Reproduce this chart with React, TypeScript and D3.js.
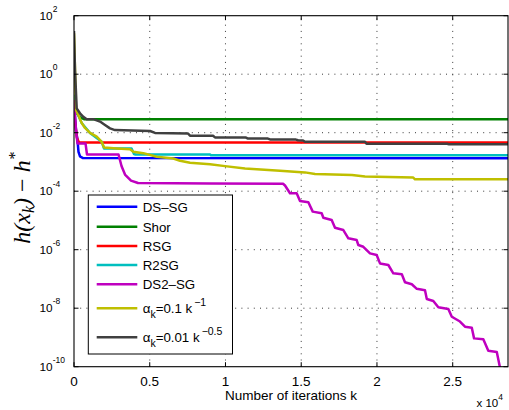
import React from 'react';
import * as d3 from 'd3';

// iterations k, h(x_k) - h*
const DS_SG: [number, number][] = [
  [0, 0.09], [132, 0.0123], [231, 5.6e-3], [297, 2.2e-3], [396, 1.54e-3], [594, 1.36e-3], [28650, 1.35e-3],
];
const SHOR: [number, number][] = [
  [0, 0.13], [132, 0.05], [396, 0.034], [660, 0.0288], [28650, 0.0288],
];
const RSG: [number, number][] = [
  [0, 0.08], [66, 0.023], [198, 6.6e-3], [330, 4.6e-3], [28650, 4.6e-3],
];
const R2SG: [number, number][] = [
  [0, 0.2], [132, 0.06], [508, 0.0215], [1056, 9.8e-3], [1829, 4.9e-3], [1980, 2.9e-3],
  [3800, 2.9e-3], [3960, 1.87e-3], [4060, 1.8e-3], [8980, 1.8e-3], [9040, 1.7e-3], [28650, 1.7e-3],
];
const DS2_SG: [number, number][] = [
  [0, 0.13], [132, 0.0123], [231, 4.3e-3], [760, 4.3e-3], [858, 1.8e-3], [2940, 1.8e-3],
  [3136, 7.3e-4], [3367, 3.7e-4], [3763, 2.3e-4], [4225, 1.9e-4], [9000, 1.85e-4], [13800, 1.8e-4],
  [13930, 1.57e-4], [14260, 8.5e-5], [14700, 8.5e-5], [14920, 4.6e-5], [15470, 4.2e-5], [15760, 2.0e-5],
  [16350, 1.76e-5], [16460, 1.24e-5], [17010, 1.04e-5], [17230, 5.6e-6], [17780, 4.7e-6], [18110, 2.45e-6],
  [18660, 2.14e-6], [18770, 1.45e-6], [19100, 1.26e-6], [19540, 7.5e-7], [19980, 6.6e-7], [20200, 3.4e-7],
  [20750, 3.0e-7], [21080, 1.56e-7], [21640, 1.44e-7], [21850, 7.7e-8], [22300, 6.6e-8], [22630, 4.6e-8],
  [23170, 4.1e-8], [23290, 2.07e-8], [23720, 1.77e-8], [24050, 1.08e-8], [24710, 9.4e-9], [24940, 5.1e-9],
  [25480, 3.5e-9], [25810, 2.33e-9], [26260, 2.15e-9], [26410, 9.3e-10], [27020, 8.7e-10], [27350, 3.5e-10],
  [27910, 3.2e-10], [28130, 8.9e-11],
];
const ALPHA_INV: [number, number][] = [
  [0, 25], [33, 6.7], [100, 0.29], [132, 0.06], [284, 0.04], [508, 0.0215], [726, 0.0145], [1056, 9.8e-3],
  [1499, 7.3e-3], [1829, 4.9e-3], [1980, 3.1e-3], [2819, 2.9e-3], [3697, 2.7e-3], [3915, 2.24e-3],
  [4575, 2.0e-3], [5460, 1.5e-3], [6556, 1.31e-3], [7000, 1.1e-3], [7660, 9.4e-4], [8980, 8.3e-4],
  [9970, 7.2e-4], [11290, 6.0e-4], [13600, 5.0e-4], [15250, 4.4e-4], [15910, 3.9e-4], [18350, 3.6e-4],
  [19210, 3.2e-4], [22380, 2.95e-4], [22510, 2.55e-4], [28650, 2.55e-4],
];
const ALPHA_SQRT: [number, number][] = [
  [0, 30], [66, 1.4], [178, 0.068], [396, 0.046], [614, 0.035], [838, 0.029], [1274, 0.029],
  [1717, 0.024], [2047, 0.0183], [2377, 0.0141], [2707, 0.0123], [5018, 0.0114], [5348, 9.8e-3],
  [7526, 9.4e-3], [7658, 7.9e-3], [9177, 7.9e-3], [9309, 6.9e-3], [11355, 6.8e-3], [11487, 6.3e-3],
  [12800, 6.3e-3], [12940, 5.9e-3], [14650, 5.8e-3], [14790, 5.5e-3], [15120, 5.4e-3], [15250, 4.9e-3],
  [19210, 4.9e-3], [19310, 4.2e-3], [24630, 4.2e-3], [24760, 4.0e-3], [28650, 4.0e-3],
];

const SERIES = [
  { name: 'DS–SG', color: '#0000ff', data: DS_SG },
  { name: 'Shor', color: '#008000', data: SHOR },
  { name: 'RSG', color: '#ff0000', data: RSG },
  { name: 'R2SG', color: '#00bfbf', data: R2SG },
  { name: 'DS2–SG', color: '#bf00bf', data: DS2_SG },
  { name: 'a1', color: '#bfbf00', data: ALPHA_INV },
  { name: 'a2', color: '#404040', data: ALPHA_SQRT },
];

const X_TICKS = [0, 5000, 10000, 15000, 20000, 25000];
const X_TICK_LABELS = ['0', '0.5', '1', '1.5', '2', '2.5'];
const Y_EXPONENTS = [2, 0, -2, -4, -6, -8, -10];

const W = 509;
const H = 410;
const L = 74, R = 508, T = 15.7, B = 366.7;
const FONT = 'Liberation Sans, Arial, sans-serif';

export default function App() {
  const x = d3.scaleLinear().domain([0, 28650]).range([L, R]);
  const y = d3.scaleLog().domain([1e-10, 1e2]).range([B, T]);
  const line = d3.line<[number, number]>().x(d => x(d[0])).y(d => y(d[1]));

  const legendY = [206.7, 226.7, 246, 265, 284.3, 308.3, 337.3];

  return (
    <svg width={W} height={H} style={{ position: 'absolute', left: 0, top: 0, background: '#fff' }}>
      <defs>
        <clipPath id="plot">
          <rect x={L} y={T} width={R - L} height={B - T} />
        </clipPath>
      </defs>
      <rect x={L} y={T} width={R - L} height={B - T} fill="#fff" />

      {/* grid */}
      <g stroke="#222" strokeWidth={0.9} strokeDasharray="1 5.2">
        {X_TICKS.slice(1).map(t => (
          <line key={'gx' + t} x1={x(t)} x2={x(t)} y1={B} y2={T} />
        ))}
        {Y_EXPONENTS.slice(1, -1).map(e => (
          <line key={'gy' + e} x1={L} x2={R} y1={y(Math.pow(10, e))} y2={y(Math.pow(10, e))} />
        ))}
      </g>

      {/* curves */}
      <g clipPath="url(#plot)" fill="none" strokeWidth={2.5} strokeLinejoin="round">
        {SERIES.map(s => (
          <path key={s.name} d={line(s.data) || ''} stroke={s.color} />
        ))}
      </g>

      {/* axes box + ticks */}
      <rect x={L} y={T} width={R - L} height={B - T} fill="none" stroke="#000" strokeWidth={1.1} />
      <g stroke="#000" strokeWidth={1}>
        {X_TICKS.map(t => (
          <g key={'tx' + t}>
            <line x1={x(t)} x2={x(t)} y1={B} y2={B - 4.5} />
            <line x1={x(t)} x2={x(t)} y1={T} y2={T + 4.5} />
          </g>
        ))}
        {Y_EXPONENTS.map(e => (
          <g key={'ty' + e}>
            <line x1={L} x2={L + 4.5} y1={y(Math.pow(10, e))} y2={y(Math.pow(10, e))} />
            <line x1={R} x2={R - 4.5} y1={y(Math.pow(10, e))} y2={y(Math.pow(10, e))} />
          </g>
        ))}
      </g>

      {/* tick labels */}
      <g fontFamily={FONT} fill="#000">
        {X_TICKS.map((t, i) => (
          <text key={'lx' + t} x={x(t)} y={386} fontSize={13.5} textAnchor="middle">{X_TICK_LABELS[i]}</text>
        ))}
        {Y_EXPONENTS.map(e => (
          <text key={'ly' + e} x={39.5} y={y(Math.pow(10, e)) + 4} fontSize={11.8}>
            10<tspan dy={-8} fontSize={8.5}>{e}</tspan>
          </text>
        ))}
        <text x={291} y={399.5} fontSize={13.5} textAnchor="middle">Number of iterations k</text>
        <text x={476.5} y={407} fontSize={11.5}>
          x 10<tspan dy={-7} fontSize={8.5}>4</tspan>
        </text>
      </g>

      {/* y label */}
      <text transform="translate(30,198) rotate(-90)" textAnchor="middle"
        fontFamily="Liberation Serif, Times New Roman, serif" fontSize={24} fontStyle="italic">
        h(x<tspan dy={4} fontSize={16}>k</tspan><tspan dy={-4}>)</tspan>
        <tspan fontStyle="normal" dx={6}>−</tspan>
        <tspan dx={6}>h</tspan><tspan dy={-10} fontSize={16}>*</tspan>
      </text>

      {/* legend */}
      <rect x={88.3} y={195} width={144.2} height={159} fill="#fff" stroke="#000" strokeWidth={1} />
      <g fontFamily={FONT} fontSize={13.3} fill="#000">
        {SERIES.map((s, i) => (
          <line key={'lg' + s.name} x1={96.7} x2={137.3} y1={legendY[i]} y2={legendY[i]} stroke={s.color} strokeWidth={2.5} />
        ))}
        {SERIES.slice(0, 5).map((s, i) => (
          <text key={'lt' + s.name} x={142.7} y={legendY[i] + 4.8}>{s.name}</text>
        ))}
        <text x={142.7} y={legendY[5] + 5}>
          α<tspan dy={4.5} fontSize={10.5}>k</tspan><tspan dy={-4.5}>=0.1 k</tspan>
          <tspan dx={2} dy={-7.5} fontSize={10.5}>−1</tspan>
        </text>
        <text x={142.7} y={legendY[6] + 5}>
          α<tspan dy={4.5} fontSize={10.5}>k</tspan><tspan dy={-4.5}>=0.01 k</tspan>
          <tspan dx={2} dy={-7.5} fontSize={10.5}>−0.5</tspan>
        </text>
      </g>
    </svg>
  );
}
